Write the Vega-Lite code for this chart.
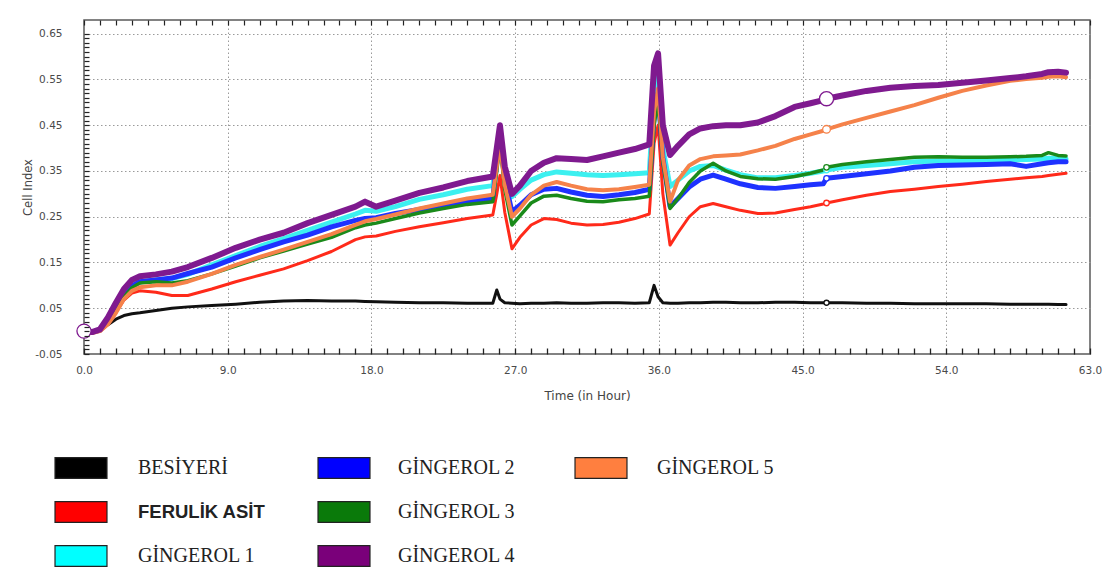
{
  "$schema": "https://vega.github.io/schema/vega-lite/v6.json",
  "width": 1006,
  "height": 334,
  "autosize": {"type": "none"},
  "padding": {"left": 84, "top": 20, "right": 22, "bottom": 220},
  "background": "white",
  "config": {
    "view": {"stroke": "#5a5a5a", "strokeWidth": 1.5},
    "axis": {"domain": false, "labelFont": "DejaVu Sans", "titleFont": "DejaVu Sans", "labelColor": "#4a4a4a", "titleColor": "#444444", "titleFontWeight": "normal", "gridColor": "#9a9a9a", "gridDash": [1.5, 2.5], "gridWidth": 1}
  },
  "data": {
    "values": [
      {"t": 0, "BESİYERİ": 0, "FERULİK ASİT": 0, "GİNGEROL 1": 0, "GİNGEROL 2": 0, "GİNGEROL 3": 0, "GİNGEROL 4": 0, "GİNGEROL 5": 0},
      {"t": 0.5, "BESİYERİ": -0.002, "FERULİK ASİT": -0.003, "GİNGEROL 1": -0.002, "GİNGEROL 2": -0.002, "GİNGEROL 3": -0.003, "GİNGEROL 4": -0.002, "GİNGEROL 5": -0.004},
      {"t": 1.0, "BESİYERİ": 0.004, "FERULİK ASİT": 0.0, "GİNGEROL 1": 0.003, "GİNGEROL 2": 0.002, "GİNGEROL 3": 0.001, "GİNGEROL 4": 0.004, "GİNGEROL 5": 0.0},
      {"t": 1.5, "BESİYERİ": 0.014, "FERULİK ASİT": 0.015, "GİNGEROL 1": 0.022, "GİNGEROL 2": 0.02, "GİNGEROL 3": 0.018, "GİNGEROL 4": 0.03, "GİNGEROL 5": 0.015},
      {"t": 2.0, "BESİYERİ": 0.026, "FERULİK ASİT": 0.04, "GİNGEROL 1": 0.05, "GİNGEROL 2": 0.048, "GİNGEROL 3": 0.045, "GİNGEROL 4": 0.062, "GİNGEROL 5": 0.04},
      {"t": 2.5, "BESİYERİ": 0.034, "FERULİK ASİT": 0.068, "GİNGEROL 1": 0.08, "GİNGEROL 2": 0.078, "GİNGEROL 3": 0.075, "GİNGEROL 4": 0.092, "GİNGEROL 5": 0.07},
      {"t": 3.0, "BESİYERİ": 0.038, "FERULİK ASİT": 0.083, "GİNGEROL 1": 0.1, "GİNGEROL 2": 0.098, "GİNGEROL 3": 0.095, "GİNGEROL 4": 0.112, "GİNGEROL 5": 0.088},
      {"t": 3.5, "BESİYERİ": 0.04, "FERULİK ASİT": 0.088, "GİNGEROL 1": 0.108, "GİNGEROL 2": 0.108, "GİNGEROL 3": 0.105, "GİNGEROL 4": 0.12, "GİNGEROL 5": 0.096},
      {"t": 4.5, "BESİYERİ": 0.045, "FERULİK ASİT": 0.085, "GİNGEROL 1": 0.112, "GİNGEROL 2": 0.112, "GİNGEROL 3": 0.108, "GİNGEROL 4": 0.124, "GİNGEROL 5": 0.1},
      {"t": 5.5, "BESİYERİ": 0.05, "FERULİK ASİT": 0.078, "GİNGEROL 1": 0.115, "GİNGEROL 2": 0.116, "GİNGEROL 3": 0.105, "GİNGEROL 4": 0.13, "GİNGEROL 5": 0.1},
      {"t": 6.5, "BESİYERİ": 0.053, "FERULİK ASİT": 0.078, "GİNGEROL 1": 0.124, "GİNGEROL 2": 0.126, "GİNGEROL 3": 0.11, "GİNGEROL 4": 0.14, "GİNGEROL 5": 0.108},
      {"t": 8, "BESİYERİ": 0.056, "FERULİK ASİT": 0.092, "GİNGEROL 1": 0.145, "GİNGEROL 2": 0.14, "GİNGEROL 3": 0.125, "GİNGEROL 4": 0.16, "GİNGEROL 5": 0.125},
      {"t": 9.5, "BESİYERİ": 0.059, "FERULİK ASİT": 0.108, "GİNGEROL 1": 0.165, "GİNGEROL 2": 0.16, "GİNGEROL 3": 0.142, "GİNGEROL 4": 0.182, "GİNGEROL 5": 0.145},
      {"t": 11, "BESİYERİ": 0.063, "FERULİK ASİT": 0.122, "GİNGEROL 1": 0.185, "GİNGEROL 2": 0.178, "GİNGEROL 3": 0.16, "GİNGEROL 4": 0.2, "GİNGEROL 5": 0.162},
      {"t": 12.5, "BESİYERİ": 0.066, "FERULİK ASİT": 0.136, "GİNGEROL 1": 0.202, "GİNGEROL 2": 0.195, "GİNGEROL 3": 0.175, "GİNGEROL 4": 0.215, "GİNGEROL 5": 0.178},
      {"t": 14, "BESİYERİ": 0.067, "FERULİK ASİT": 0.154, "GİNGEROL 1": 0.22, "GİNGEROL 2": 0.21, "GİNGEROL 3": 0.19, "GİNGEROL 4": 0.236, "GİNGEROL 5": 0.195},
      {"t": 15.5, "BESİYERİ": 0.066, "FERULİK ASİT": 0.174, "GİNGEROL 1": 0.238, "GİNGEROL 2": 0.228, "GİNGEROL 3": 0.205, "GİNGEROL 4": 0.254, "GİNGEROL 5": 0.212},
      {"t": 17, "BESİYERİ": 0.066, "FERULİK ASİT": 0.2, "GİNGEROL 1": 0.256, "GİNGEROL 2": 0.242, "GİNGEROL 3": 0.226, "GİNGEROL 4": 0.272, "GİNGEROL 5": 0.232},
      {"t": 17.6, "BESİYERİ": 0.065, "FERULİK ASİT": 0.206, "GİNGEROL 1": 0.264, "GİNGEROL 2": 0.246, "GİNGEROL 3": 0.232, "GİNGEROL 4": 0.283, "GİNGEROL 5": 0.24},
      {"t": 18.3, "BESİYERİ": 0.064, "FERULİK ASİT": 0.208, "GİNGEROL 1": 0.262, "GİNGEROL 2": 0.248, "GİNGEROL 3": 0.236, "GİNGEROL 4": 0.272, "GİNGEROL 5": 0.245},
      {"t": 19.5, "BESİYERİ": 0.063, "FERULİK ASİT": 0.218, "GİNGEROL 1": 0.272, "GİNGEROL 2": 0.257, "GİNGEROL 3": 0.246, "GİNGEROL 4": 0.285, "GİNGEROL 5": 0.255},
      {"t": 21, "BESİYERİ": 0.062, "FERULİK ASİT": 0.228, "GİNGEROL 1": 0.288, "GİNGEROL 2": 0.266, "GİNGEROL 3": 0.258, "GİNGEROL 4": 0.302, "GİNGEROL 5": 0.268},
      {"t": 22.5, "BESİYERİ": 0.062, "FERULİK ASİT": 0.237, "GİNGEROL 1": 0.298, "GİNGEROL 2": 0.276, "GİNGEROL 3": 0.268, "GİNGEROL 4": 0.314, "GİNGEROL 5": 0.279},
      {"t": 24, "BESİYERİ": 0.061, "FERULİK ASİT": 0.246, "GİNGEROL 1": 0.31, "GİNGEROL 2": 0.284, "GİNGEROL 3": 0.277, "GİNGEROL 4": 0.328, "GİNGEROL 5": 0.29},
      {"t": 25.6, "BESİYERİ": 0.061, "FERULİK ASİT": 0.254, "GİNGEROL 1": 0.318, "GİNGEROL 2": 0.29, "GİNGEROL 3": 0.283, "GİNGEROL 4": 0.338, "GİNGEROL 5": 0.298},
      {"t": 25.85, "BESİYERİ": 0.09, "FERULİK ASİT": 0.3, "GİNGEROL 1": 0.38, "GİNGEROL 2": 0.37, "GİNGEROL 3": 0.35, "GİNGEROL 4": 0.4, "GİNGEROL 5": 0.36},
      {"t": 26.05, "BESİYERİ": 0.07, "FERULİK ASİT": 0.34, "GİNGEROL 1": 0.42, "GİNGEROL 2": 0.432, "GİNGEROL 3": 0.41, "GİNGEROL 4": 0.45, "GİNGEROL 5": 0.41},
      {"t": 26.35, "BESİYERİ": 0.062, "FERULİK ASİT": 0.26, "GİNGEROL 1": 0.34, "GİNGEROL 2": 0.33, "GİNGEROL 3": 0.31, "GİNGEROL 4": 0.36, "GİNGEROL 5": 0.32},
      {"t": 26.8, "BESİYERİ": 0.061, "FERULİK ASİT": 0.18, "GİNGEROL 1": 0.294, "GİNGEROL 2": 0.261, "GİNGEROL 3": 0.232, "GİNGEROL 4": 0.3, "GİNGEROL 5": 0.25},
      {"t": 27.3, "BESİYERİ": 0.06, "FERULİK ASİT": 0.205, "GİNGEROL 1": 0.31, "GİNGEROL 2": 0.275, "GİNGEROL 3": 0.252, "GİNGEROL 4": 0.318, "GİNGEROL 5": 0.268},
      {"t": 28, "BESİYERİ": 0.061, "FERULİK ASİT": 0.232, "GİNGEROL 1": 0.33, "GİNGEROL 2": 0.298, "GİNGEROL 3": 0.28, "GİNGEROL 4": 0.35, "GİNGEROL 5": 0.298},
      {"t": 28.8, "BESİYERİ": 0.061, "FERULİK ASİT": 0.246, "GİNGEROL 1": 0.342, "GİNGEROL 2": 0.31, "GİNGEROL 3": 0.295, "GİNGEROL 4": 0.368, "GİNGEROL 5": 0.318},
      {"t": 29.6, "BESİYERİ": 0.062, "FERULİK ASİT": 0.244, "GİNGEROL 1": 0.348, "GİNGEROL 2": 0.312, "GİNGEROL 3": 0.297, "GİNGEROL 4": 0.378, "GİNGEROL 5": 0.326},
      {"t": 30.5, "BESİYERİ": 0.061, "FERULİK ASİT": 0.236, "GİNGEROL 1": 0.345, "GİNGEROL 2": 0.304, "GİNGEROL 3": 0.29, "GİNGEROL 4": 0.376, "GİNGEROL 5": 0.318},
      {"t": 31.5, "BESİYERİ": 0.061, "FERULİK ASİT": 0.232, "GİNGEROL 1": 0.342, "GİNGEROL 2": 0.297, "GİNGEROL 3": 0.284, "GİNGEROL 4": 0.374, "GİNGEROL 5": 0.31},
      {"t": 32.5, "BESİYERİ": 0.062, "FERULİK ASİT": 0.233, "GİNGEROL 1": 0.34, "GİNGEROL 2": 0.294, "GİNGEROL 3": 0.283, "GİNGEROL 4": 0.382, "GİNGEROL 5": 0.308},
      {"t": 33.5, "BESİYERİ": 0.062, "FERULİK ASİT": 0.238, "GİNGEROL 1": 0.342, "GİNGEROL 2": 0.298, "GİNGEROL 3": 0.287, "GİNGEROL 4": 0.39, "GİNGEROL 5": 0.31},
      {"t": 34.5, "BESİYERİ": 0.061, "FERULİK ASİT": 0.246, "GİNGEROL 1": 0.344, "GİNGEROL 2": 0.303, "GİNGEROL 3": 0.29, "GİNGEROL 4": 0.398, "GİNGEROL 5": 0.315},
      {"t": 35.4, "BESİYERİ": 0.062, "FERULİK ASİT": 0.256, "GİNGEROL 1": 0.346, "GİNGEROL 2": 0.31, "GİNGEROL 3": 0.295, "GİNGEROL 4": 0.408, "GİNGEROL 5": 0.32},
      {"t": 35.7, "BESİYERİ": 0.1, "FERULİK ASİT": 0.41, "GİNGEROL 1": 0.52, "GİNGEROL 2": 0.47, "GİNGEROL 3": 0.45, "GİNGEROL 4": 0.58, "GİNGEROL 5": 0.48},
      {"t": 35.95, "BESİYERİ": 0.075, "FERULİK ASİT": 0.45, "GİNGEROL 1": 0.56, "GİNGEROL 2": 0.52, "GİNGEROL 3": 0.505, "GİNGEROL 4": 0.607, "GİNGEROL 5": 0.53},
      {"t": 36.25, "BESİYERİ": 0.062, "FERULİK ASİT": 0.3, "GİNGEROL 1": 0.4, "GİNGEROL 2": 0.38, "GİNGEROL 3": 0.37, "GİNGEROL 4": 0.45, "GİNGEROL 5": 0.38},
      {"t": 36.7, "BESİYERİ": 0.061, "FERULİK ASİT": 0.188, "GİNGEROL 1": 0.316, "GİNGEROL 2": 0.272, "GİNGEROL 3": 0.268, "GİNGEROL 4": 0.385, "GİNGEROL 5": 0.283},
      {"t": 37.2, "BESİYERİ": 0.061, "FERULİK ASİT": 0.215, "GİNGEROL 1": 0.33, "GİNGEROL 2": 0.29, "GİNGEROL 3": 0.29, "GİNGEROL 4": 0.405, "GİNGEROL 5": 0.33},
      {"t": 37.9, "BESİYERİ": 0.062, "FERULİK ASİT": 0.25, "GİNGEROL 1": 0.35, "GİNGEROL 2": 0.315, "GİNGEROL 3": 0.325, "GİNGEROL 4": 0.43, "GİNGEROL 5": 0.362},
      {"t": 38.6, "BESİYERİ": 0.062, "FERULİK ASİT": 0.272, "GİNGEROL 1": 0.36, "GİNGEROL 2": 0.332, "GİNGEROL 3": 0.35, "GİNGEROL 4": 0.443, "GİNGEROL 5": 0.376},
      {"t": 39.4, "BESİYERİ": 0.063, "FERULİK ASİT": 0.279, "GİNGEROL 1": 0.362, "GİNGEROL 2": 0.341, "GİNGEROL 3": 0.367, "GİNGEROL 4": 0.448, "GİNGEROL 5": 0.382},
      {"t": 40.2, "BESİYERİ": 0.063, "FERULİK ASİT": 0.272, "GİNGEROL 1": 0.352, "GİNGEROL 2": 0.332, "GİNGEROL 3": 0.35, "GİNGEROL 4": 0.45, "GİNGEROL 5": 0.384},
      {"t": 41.1, "BESİYERİ": 0.062, "FERULİK ASİT": 0.264, "GİNGEROL 1": 0.342, "GİNGEROL 2": 0.322, "GİNGEROL 3": 0.338, "GİNGEROL 4": 0.45, "GİNGEROL 5": 0.386},
      {"t": 42.2, "BESİYERİ": 0.062, "FERULİK ASİT": 0.257, "GİNGEROL 1": 0.335, "GİNGEROL 2": 0.314, "GİNGEROL 3": 0.333, "GİNGEROL 4": 0.456, "GİNGEROL 5": 0.395},
      {"t": 43.3, "BESİYERİ": 0.063, "FERULİK ASİT": 0.258, "GİNGEROL 1": 0.335, "GİNGEROL 2": 0.312, "GİNGEROL 3": 0.332, "GİNGEROL 4": 0.47, "GİNGEROL 5": 0.405},
      {"t": 44.5, "BESİYERİ": 0.063, "FERULİK ASİT": 0.266, "GİNGEROL 1": 0.34, "GİNGEROL 2": 0.316, "GİNGEROL 3": 0.338, "GİNGEROL 4": 0.49, "GİNGEROL 5": 0.42},
      {"t": 45.5, "BESİYERİ": 0.062, "FERULİK ASİT": 0.272, "GİNGEROL 1": 0.345, "GİNGEROL 2": 0.32, "GİNGEROL 3": 0.345, "GİNGEROL 4": 0.498, "GİNGEROL 5": 0.43},
      {"t": 46.3, "BESİYERİ": 0.062, "FERULİK ASİT": 0.278, "GİNGEROL 1": 0.35, "GİNGEROL 2": 0.322, "GİNGEROL 3": 0.352, "GİNGEROL 4": 0.505, "GİNGEROL 5": 0.438},
      {"t": 46.5, "BESİYERİ": 0.062, "FERULİK ASİT": 0.28, "GİNGEROL 1": 0.352, "GİNGEROL 2": 0.334, "GİNGEROL 3": 0.358, "GİNGEROL 4": 0.508, "GİNGEROL 5": 0.441},
      {"t": 47.5, "BESİYERİ": 0.062, "FERULİK ASİT": 0.287, "GİNGEROL 1": 0.358, "GİNGEROL 2": 0.338, "GİNGEROL 3": 0.364, "GİNGEROL 4": 0.515, "GİNGEROL 5": 0.452},
      {"t": 49, "BESİYERİ": 0.061, "FERULİK ASİT": 0.297, "GİNGEROL 1": 0.362, "GİNGEROL 2": 0.344, "GİNGEROL 3": 0.37, "GİNGEROL 4": 0.525, "GİNGEROL 5": 0.466},
      {"t": 50.5, "BESİYERİ": 0.061, "FERULİK ASİT": 0.305, "GİNGEROL 1": 0.366, "GİNGEROL 2": 0.35, "GİNGEROL 3": 0.375, "GİNGEROL 4": 0.532, "GİNGEROL 5": 0.48},
      {"t": 52, "BESİYERİ": 0.06, "FERULİK ASİT": 0.31, "GİNGEROL 1": 0.37, "GİNGEROL 2": 0.358, "GİNGEROL 3": 0.38, "GİNGEROL 4": 0.536, "GİNGEROL 5": 0.494},
      {"t": 53.5, "BESİYERİ": 0.06, "FERULİK ASİT": 0.316, "GİNGEROL 1": 0.372, "GİNGEROL 2": 0.362, "GİNGEROL 3": 0.381, "GİNGEROL 4": 0.538, "GİNGEROL 5": 0.51},
      {"t": 55, "BESİYERİ": 0.06, "FERULİK ASİT": 0.321, "GİNGEROL 1": 0.372, "GİNGEROL 2": 0.363, "GİNGEROL 3": 0.38, "GİNGEROL 4": 0.543, "GİNGEROL 5": 0.525},
      {"t": 56.5, "BESİYERİ": 0.06, "FERULİK ASİT": 0.327, "GİNGEROL 1": 0.372, "GİNGEROL 2": 0.364, "GİNGEROL 3": 0.38, "GİNGEROL 4": 0.548, "GİNGEROL 5": 0.537},
      {"t": 58, "BESİYERİ": 0.059, "FERULİK ASİT": 0.332, "GİNGEROL 1": 0.374, "GİNGEROL 2": 0.366, "GİNGEROL 3": 0.381, "GİNGEROL 4": 0.553, "GİNGEROL 5": 0.547},
      {"t": 59, "BESİYERİ": 0.059, "FERULİK ASİT": 0.335, "GİNGEROL 1": 0.375, "GİNGEROL 2": 0.36, "GİNGEROL 3": 0.382, "GİNGEROL 4": 0.557, "GİNGEROL 5": 0.551},
      {"t": 60, "BESİYERİ": 0.059, "FERULİK ASİT": 0.338, "GİNGEROL 1": 0.376, "GİNGEROL 2": 0.366, "GİNGEROL 3": 0.384, "GİNGEROL 4": 0.562, "GİNGEROL 5": 0.554},
      {"t": 60.4, "BESİYERİ": 0.059, "FERULİK ASİT": 0.34, "GİNGEROL 1": 0.378, "GİNGEROL 2": 0.368, "GİNGEROL 3": 0.39, "GİNGEROL 4": 0.566, "GİNGEROL 5": 0.556},
      {"t": 61, "BESİYERİ": 0.058, "FERULİK ASİT": 0.343, "GİNGEROL 1": 0.378, "GİNGEROL 2": 0.37, "GİNGEROL 3": 0.384, "GİNGEROL 4": 0.567, "GİNGEROL 5": 0.557},
      {"t": 61.5, "BESİYERİ": 0.058, "FERULİK ASİT": 0.345, "GİNGEROL 1": 0.376, "GİNGEROL 2": 0.37, "GİNGEROL 3": 0.383, "GİNGEROL 4": 0.565, "GİNGEROL 5": 0.555}
    ]
  },
  "transform": [
    {"fold": ["BESİYERİ", "FERULİK ASİT", "GİNGEROL 1", "GİNGEROL 2", "GİNGEROL 3", "GİNGEROL 5", "GİNGEROL 4"], "as": ["series", "ci"]}
  ],
  "layer": [
    {
      "transform": [{"filter": "datum.t < -10"}],
      "mark": {"type": "point"},
      "encoding": {
        "x": {
          "field": "t", "type": "quantitative",
          "scale": {"domain": [0, 63], "nice": false, "zero": false},
          "axis": {"orient": "bottom", "values": [9, 18, 27, 36, 45, 54], "grid": true, "ticks": false, "labels": false, "domain": false, "title": null}
        },
        "y": {
          "field": "ci", "type": "quantitative",
          "scale": {"domain": [-0.05, 0.68], "nice": false, "zero": false},
          "axis": {"orient": "right", "values": [0.05, 0.15, 0.25, 0.35, 0.45, 0.55, 0.65], "grid": true, "ticks": false, "labels": false, "domain": false, "title": null}
        }
      }
    },
    {
      "mark": {"type": "line", "strokeJoin": "round", "strokeCap": "round"},
      "encoding": {
        "x": {
          "field": "t", "type": "quantitative",
          "axis": {
            "orient": "bottom",
            "offset": -6,
            "values": [0,1,2,3,4,5,6,7,8,9,10,11,12,13,14,15,16,17,18,19,20,21,22,23,24,25,26,27,28,29,30,31,32,33,34,35,36,37,38,39,40,41,42,43,44,45,46,47,48,49,50,51,52,53,54,55,56,57,58,59,60,61,62,63],
            "labelExpr": "datum.value % 9 === 0 ? format(datum.value, '.1f') : ''",
            "labelOverlap": false,
            "labelFlush": false,
            "labelFontSize": 10.5,
            "labelPadding": 11,
            "grid": false,
            "ticks": true,
            "tickSize": 6,
            "tickColor": "#222222",
            "tickWidth": 1.3,
            "tickOpacity": 1,
            "zindex": 2,
            "title": "Time (in Hour)",
            "titleFontSize": 12,
            "titlePadding": 15
          }
        },
        "y": {
          "field": "ci", "type": "quantitative",
          "axis": {
            "orient": "left",
            "offset": -5,
            "values": [-0.05,-0.04,-0.03,-0.02,-0.01,0,0.01,0.02,0.03,0.04,0.05,0.06,0.07,0.08,0.09,0.1,0.11,0.12,0.13,0.14,0.15,0.16,0.17,0.18,0.19,0.2,0.21,0.22,0.23,0.24,0.25,0.26,0.27,0.28,0.29,0.3,0.31,0.32,0.33,0.34,0.35,0.36,0.37,0.38,0.39,0.4,0.41,0.42,0.43,0.44,0.45,0.46,0.47,0.48,0.49,0.5,0.51,0.52,0.53,0.54,0.55,0.56,0.57,0.58,0.59,0.6,0.61,0.62,0.63,0.64,0.65],
            "labelExpr": "(round(datum.value * 100) + 1000) % 10 === 5 ? replace(format(datum.value, '.2f'), '−', '-') : ''",
            "labelOverlap": false,
            "labelFlush": false,
            "labelFontSize": 10.5,
            "labelPadding": 22,
            "grid": false,
            "ticks": true,
            "tickSize": 5,
            "tickColor": "#222222",
            "tickWidth": 1.2,
            "tickOpacity": 1,
            "zindex": 2,
            "title": "Cell Index",
            "titleFontSize": 11.5,
            "titlePadding": 1
          }
        },
        "stroke": {
          "field": "series", "type": "nominal",
          "scale": {"domain": ["BESİYERİ", "FERULİK ASİT", "GİNGEROL 1", "GİNGEROL 2", "GİNGEROL 3", "GİNGEROL 4", "GİNGEROL 5"], "range": ["#111111", "#ff2a1a", "#3cf0f0", "#1e32ff", "#1a8a1a", "#7f1a8f", "#f5824a"]},
          "legend": null
        },
        "strokeWidth": {
          "field": "series", "type": "nominal",
          "scale": {"type": "ordinal", "domain": ["BESİYERİ", "FERULİK ASİT", "GİNGEROL 1", "GİNGEROL 2", "GİNGEROL 3", "GİNGEROL 4", "GİNGEROL 5"], "range": [3, 3, 5, 5, 3.5, 6, 4]},
          "legend": null
        }
      }
    },
    {
      "transform": [{"filter": {"field": "t", "oneOf": [0, 46.5]}}],
      "mark": {"type": "point", "filled": true, "fill": "white", "strokeWidth": 1.3, "opacity": 1},
      "encoding": {
        "x": {"field": "t", "type": "quantitative", "axis": null},
        "y": {"field": "ci", "type": "quantitative", "axis": null},
        "stroke": {"field": "series", "type": "nominal", "legend": null},
        "size": {
          "field": "series", "type": "nominal",
          "scale": {"type": "ordinal", "domain": ["BESİYERİ", "FERULİK ASİT", "GİNGEROL 1", "GİNGEROL 2", "GİNGEROL 3", "GİNGEROL 4", "GİNGEROL 5"], "range": [25, 30, 30, 30, 30, 200, 60]},
          "legend": null
        }
      }
    },
    {
      "transform": [{"filter": "datum.t < -10"}],
      "mark": {"type": "rule"},
      "encoding": {
        "x": {
          "field": "t", "type": "quantitative",
          "axis": {
            "orient": "top",
            "offset": -5,
            "values": [0,1,2,3,4,5,6,7,8,9,10,11,12,13,14,15,16,17,18,19,20,21,22,23,24,25,26,27,28,29,30,31,32,33,34,35,36,37,38,39,40,41,42,43,44,45,46,47,48,49,50,51,52,53,54,55,56,57,58,59,60,61,62,63],
            "labels": false,
            "grid": false,
            "ticks": true,
            "tickSize": 5,
            "tickColor": "#222222",
            "tickWidth": 1.2,
            "tickOpacity": 1,
            "zindex": 2,
            "title": null
          }
        }
      }
    },
    {
      "transform": [{"filter": "datum.t < -10"}],
      "mark": {"type": "square"},
      "encoding": {
        "fill": {
          "field": "series", "type": "nominal",
          "scale": {"domain": ["BESİYERİ", "FERULİK ASİT", "GİNGEROL 1"], "range": ["#000000", "#ff0000", "#00ffff"]},
          "legend": {
            "orient": "none", "legendX": -29, "legendY": 437, "title": null, "direction": "vertical", "padding": 0,
            "symbolType": "M-2.5,-1H2.5V1H-2.5Z", "symbolSize": 432, "symbolOffset": 15,
            "symbolStrokeColor": "#222222", "symbolStrokeWidth": 1.2, "symbolOpacity": 1,
            "labelOffset": 46, "labelFont": "Liberation Serif", "labelFontSize": 20, "labelColor": "#222222", "labelLimit": 300,
            "rowPadding": 18,
            "encoding": {
              "labels": {
                "font": {"condition": {"test": "datum.label === 'FERULİK ASİT'", "value": "Liberation Sans"}, "value": "Liberation Serif"},
                "fontWeight": {"condition": {"test": "datum.label === 'FERULİK ASİT'", "value": "bold"}, "value": "normal"},
                "fontSize": {"condition": {"test": "datum.label === 'FERULİK ASİT'", "value": 18.5}, "value": 20}
              }
            }
          }
        }
      }
    },
    {
      "transform": [{"filter": "datum.t < -10"}],
      "mark": {"type": "square"},
      "encoding": {
        "fill": {
          "field": "series", "type": "nominal",
          "scale": {"domain": ["GİNGEROL 2", "GİNGEROL 3", "GİNGEROL 4"], "range": ["#0000ff", "#0a7a0a", "#7a007a"]},
          "legend": {
            "orient": "none", "legendX": 234, "legendY": 437, "title": null, "direction": "vertical", "padding": 0,
            "symbolType": "M-2.5,-1H2.5V1H-2.5Z", "symbolSize": 432, "symbolOffset": 15,
            "symbolStrokeColor": "#222222", "symbolStrokeWidth": 1.2, "symbolOpacity": 1,
            "labelOffset": 43, "labelFont": "Liberation Serif", "labelFontSize": 20, "labelColor": "#222222", "labelLimit": 300,
            "rowPadding": 18
          }
        }
      }
    },
    {
      "transform": [{"filter": "datum.t < -10"}],
      "mark": {"type": "square"},
      "encoding": {
        "fill": {
          "field": "series", "type": "nominal",
          "scale": {"domain": ["GİNGEROL 5"], "range": ["#ff7f3f"]},
          "legend": {
            "orient": "none", "legendX": 491, "legendY": 437, "title": null, "direction": "vertical", "padding": 0,
            "symbolType": "M-2.5,-1H2.5V1H-2.5Z", "symbolSize": 432, "symbolOffset": 15,
            "symbolStrokeColor": "#222222", "symbolStrokeWidth": 1.2, "symbolOpacity": 1,
            "labelOffset": 45, "labelFont": "Liberation Serif", "labelFontSize": 20, "labelColor": "#222222", "labelLimit": 300,
            "rowPadding": 18
          }
        }
      }
    }
  ],
  "resolve": {"scale": {"fill": "independent", "size": "independent"}, "axis": {"x": "independent", "y": "independent"}}
}
